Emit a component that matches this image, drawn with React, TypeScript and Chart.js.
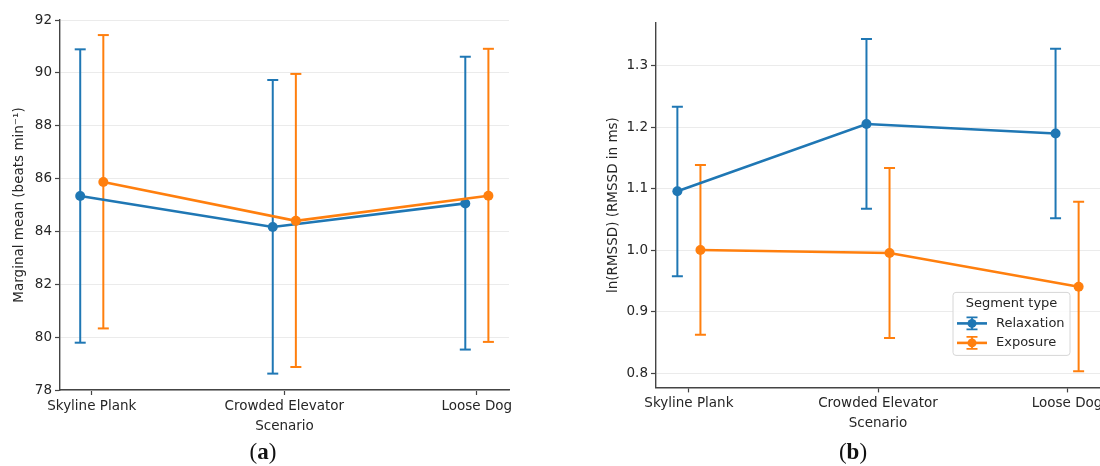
import React, { useEffect, useRef } from "react";
import { Chart, registerables } from "chart.js";

Chart.register(...registerables);

// ---------- data ----------
const scenarios = ["Skyline Plank", "Crowded Elevator", "Loose Dog"];
const segmentTypes = ["Relaxation", "Exposure"];
const seriesColors = ["#1f77b4", "#ff7f0e"];

// Panel (a): marginal mean heart rate (beats min^-1)
const hrRelaxMean = [85.34, 84.17, 85.06];
const hrRelaxLow = [79.79, 78.62, 79.53];
const hrRelaxHigh = [90.89, 89.73, 90.61];
const hrExpoMean = [85.87, 84.4, 85.35];
const hrExpoLow = [80.33, 78.87, 79.82];
const hrExpoHigh = [91.43, 89.96, 90.91];
const hrTicks = [78, 80, 82, 84, 86, 88, 90, 92];

// Panel (b): ln(RMSSD)
const hrvRelaxMean = [1.096, 1.2055, 1.19];
const hrvRelaxLow = [0.9575, 1.0676, 1.052];
const hrvRelaxHigh = [1.2337, 1.344, 1.328];
const hrvExpoMean = [1.0003, 0.9955, 0.9406];
const hrvExpoLow = [0.8624, 0.857, 0.803];
const hrvExpoHigh = [1.139, 1.134, 1.079];
const hrvTicks = [0.8, 0.9, 1.0, 1.1, 1.2, 1.3];

const scenarioIdx = [0, 1, 2];

// ---------- styling ----------
const FONT = "'DejaVu Sans', sans-serif";
const FS = 13.5;
const LEGEND_FS = 13;
const TEXT = "#262626";
const AXIS = "#444444";
const GRID = "#ebebeb";

type Series = { mean: number[]; low: number[]; high: number[] };

function buildDatasets(series: Series[], dodge: number) {
  const ds: any[] = [];
  series.forEach((s, si) => {
    const off = (si === 0 ? -1 : 1) * dodge;
    const c = seriesColors[si];
    ds.push({
      label: segmentTypes[si],
      data: s.mean.map((v, i) => ({ x: scenarioIdx[i] + off, y: v })),
      borderColor: c,
      backgroundColor: c,
      pointBackgroundColor: c,
      pointBorderColor: c,
      borderWidth: 2.6,
      pointRadius: 5,
      pointBorderWidth: 0,
      pointStyle: "circle",
      order: 2 - si,
    });
    s.mean.forEach((_, i) => {
      ds.push({
        label: segmentTypes[si] + " CI " + scenarios[i],
        data: [
          { x: scenarioIdx[i] + off, y: s.low[i] },
          { x: scenarioIdx[i] + off, y: s.high[i] },
        ],
        borderColor: c,
        backgroundColor: c,
        pointBorderColor: c,
        borderWidth: 2,
        pointStyle: "line",
        pointRadius: 5.5,
        pointBorderWidth: 2,
        order: 4 - si,
      });
    });
  });
  return ds;
}

function legendPlugin(enabled: boolean) {
  return {
    id: "segLegend",
    afterDraw(chart: any) {
      if (!enabled) return;
      const { ctx, chartArea } = chart;
      const w = 117;
      const h = 63;
      const right = chartArea.right - 30;
      const bottom = chartArea.bottom - 32;
      const left = right - w;
      const top = bottom - h;
      ctx.save();
      ctx.beginPath();
      const r = 3;
      ctx.moveTo(left + r, top);
      ctx.lineTo(right - r, top);
      ctx.quadraticCurveTo(right, top, right, top + r);
      ctx.lineTo(right, bottom - r);
      ctx.quadraticCurveTo(right, bottom, right - r, bottom);
      ctx.lineTo(left + r, bottom);
      ctx.quadraticCurveTo(left, bottom, left, bottom - r);
      ctx.lineTo(left, top + r);
      ctx.quadraticCurveTo(left, top, left + r, top);
      ctx.closePath();
      ctx.fillStyle = "rgba(255,255,255,0.85)";
      ctx.fill();
      ctx.strokeStyle = "#d6d6d6";
      ctx.lineWidth = 1;
      ctx.stroke();

      ctx.font = LEGEND_FS + "px " + FONT;
      ctx.fillStyle = TEXT;
      ctx.textBaseline = "middle";
      ctx.textAlign = "center";
      ctx.fillText("Segment type", left + w / 2, top + 11);

      segmentTypes.forEach((name, i) => {
        const cy = top + 31 + i * 19.5;
        const cx = left + 19;
        const c = seriesColors[i];
        ctx.strokeStyle = c;
        ctx.fillStyle = c;
        ctx.lineWidth = 2.6;
        ctx.beginPath();
        ctx.moveTo(cx - 15, cy);
        ctx.lineTo(cx + 15, cy);
        ctx.stroke();
        ctx.lineWidth = 1.8;
        ctx.beginPath();
        ctx.moveTo(cx, cy - 6);
        ctx.lineTo(cx, cy + 6);
        ctx.moveTo(cx - 5.5, cy - 6);
        ctx.lineTo(cx + 5.5, cy - 6);
        ctx.moveTo(cx - 5.5, cy + 6);
        ctx.lineTo(cx + 5.5, cy + 6);
        ctx.stroke();
        ctx.beginPath();
        ctx.arc(cx, cy, 4.5, 0, Math.PI * 2);
        ctx.fill();
        ctx.fillStyle = TEXT;
        ctx.textAlign = "left";
        ctx.fillText(name, left + 43, cy);
      });
      ctx.restore();
    },
  };
}

type PanelProps = {
  series: Series[];
  ticks: number[];
  yMin: number;
  yMax: number;
  xMin: number;
  xMax: number;
  dodge: number;
  yTitle: string;
  tickFmt: (v: number) => string;
  padding: { left: number; right: number; top: number; bottom: number };
  yWidth: number;
  xHeight: number;
  width: number;
  height: number;
  showLegend: boolean;
};

function Panel(p: PanelProps) {
  const ref = useRef<HTMLCanvasElement | null>(null);
  useEffect(() => {
    if (!ref.current) return;
    const chart = new Chart(ref.current, {
      type: "line",
      data: { datasets: buildDatasets(p.series, p.dodge) },
      plugins: [legendPlugin(p.showLegend)],
      options: {
        responsive: false,
        animation: false,
        events: [],
        layout: { padding: p.padding },
        plugins: {
          legend: { display: false },
          tooltip: { enabled: false },
        },
        scales: {
          x: {
            type: "linear",
            min: p.xMin,
            max: p.xMax,
            afterBuildTicks: (s: any) => {
              s.ticks = scenarioIdx.map((v) => ({ value: v }));
            },
            afterFit: (s: any) => {
              s.height = p.xHeight;
            },
            ticks: {
              autoSkip: false,
              maxRotation: 0,
              padding: 3,
              color: TEXT,
              font: { family: FONT, size: FS },
              callback: (v: any) => scenarios[Math.round(Number(v))] ?? "",
            },
            grid: {
              drawOnChartArea: false,
              drawTicks: true,
              tickLength: 5,
              tickColor: AXIS,
              tickWidth: 1.2,
            },
            border: { color: AXIS, width: 1.4 },
            title: {
              display: true,
              text: "Scenario",
              color: TEXT,
              font: { family: FONT, size: FS },
              padding: { top: 4, bottom: 4 },
            },
          },
          y: {
            type: "linear",
            min: p.yMin,
            max: p.yMax,
            afterBuildTicks: (s: any) => {
              s.ticks = p.ticks.map((v) => ({ value: v }));
            },
            afterFit: (s: any) => {
              s.width = p.yWidth;
            },
            ticks: {
              padding: 3,
              color: TEXT,
              font: { family: FONT, size: FS },
              callback: (v: any) => p.tickFmt(Number(v)),
            },
            grid: {
              color: GRID,
              lineWidth: 1,
              drawTicks: true,
              tickLength: 5,
              tickColor: AXIS,
              tickWidth: 1.2,
            },
            border: { color: AXIS, width: 1.4 },
            title: {
              display: true,
              text: p.yTitle,
              color: TEXT,
              font: { family: FONT, size: FS },
              padding: { top: 4, bottom: 4 },
            },
          },
        },
      } as any,
    });
    return () => chart.destroy();
  }, []);
  return <canvas ref={ref} width={p.width} height={p.height} style={{ width: p.width, height: p.height, display: "block" }} />;
}

const labelStyle: React.CSSProperties = {
  position: "absolute",
  top: 438,
  width: 60,
  textAlign: "center",
  fontFamily: "'Liberation Serif', 'DejaVu Serif', serif",
  fontSize: 23,
  lineHeight: "28px",
  color: "#111",
};

export default function App() {
  return (
    <div
      style={{
        position: "fixed",
        left: 0,
        top: 0,
        width: 1100,
        height: 466,
        overflow: "hidden",
        background: "#fff",
      }}
    >
      <div style={{ position: "absolute", left: 0, top: 0 }}>
        <Panel
          series={[
            { mean: hrRelaxMean, low: hrRelaxLow, high: hrRelaxHigh },
            { mean: hrExpoMean, low: hrExpoLow, high: hrExpoHigh },
          ]}
          ticks={hrTicks}
          yMin={78}
          yMax={92}
          xMin={-0.165}
          xMax={2.167}
          dodge={0.06}
          yTitle="Marginal mean (beats min⁻¹)"
          tickFmt={(v) => String(Math.round(v))}
          padding={{ left: 7, right: 36, top: 20, bottom: 1 }}
          yWidth={53}
          xHeight={49}
          width={545}
          height={440}
          showLegend={false}
        />
      </div>
      <div style={{ position: "absolute", left: 560, top: 0 }}>
        <Panel
          series={[
            { mean: hrvRelaxMean, low: hrvRelaxLow, high: hrvRelaxHigh },
            { mean: hrvExpoMean, low: hrvExpoLow, high: hrvExpoHigh },
          ]}
          ticks={hrvTicks}
          yMin={0.7767}
          yMax={1.3705}
          xMin={-0.174}
          xMax={2.174}
          dodge={0.061}
          yTitle="ln(RMSSD) (RMSSD in ms)"
          tickFmt={(v) => v.toFixed(1)}
          padding={{ left: 41, right: 20, top: 22.7, bottom: 4 }}
          yWidth={55}
          xHeight={48.6}
          width={560}
          height={440}
          showLegend={true}
        />
      </div>
      <div style={{ ...labelStyle, left: 263 - 30 }}>
        (<b>a</b>)
      </div>
      <div style={{ ...labelStyle, left: 853 - 30 }}>
        (<b>b</b>)
      </div>
    </div>
  );
}
